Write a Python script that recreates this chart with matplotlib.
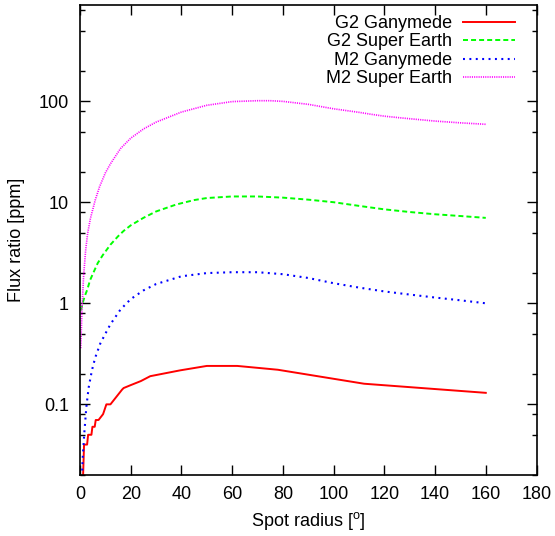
import matplotlib
matplotlib.use("Agg")
import matplotlib.pyplot as plt
from matplotlib.ticker import LogLocator, FixedLocator, FuncFormatter, NullFormatter

plt.rcParams['font.family'] = ['Liberation Sans', 'DejaVu Sans']
plt.rcParams['mathtext.fontset'] = 'custom'
plt.rcParams['mathtext.rm'] = 'Liberation Sans'
plt.rcParams['lines.scale_dashes'] = False

# ---- data ----
g2_gan_x = [0.2, 1.6, 2.8, 3.2, 4.5, 4.9, 5.8, 6.2, 7.3, 9.1, 10.4, 12.0, 16.6, 17.2, 20, 24, 27.7, 39.5, 50, 62, 78, 112, 160]
g2_gan_y = [0.003, 0.04, 0.04, 0.05, 0.05, 0.06, 0.06, 0.07, 0.07, 0.08, 0.10, 0.10, 0.14, 0.145, 0.155, 0.17, 0.19, 0.217, 0.24, 0.24, 0.22, 0.16, 0.13]

g2_se_x = [0.4, 1.0, 2.0, 2.8, 4.0, 5.4, 7, 9, 12, 15, 17.2, 20, 25, 30, 38, 45, 50, 60, 70, 80, 90, 100, 110, 120, 130, 140, 150, 160]
g2_se_y = [0.85, 1.0, 1.2, 1.35, 1.7, 2.04, 2.5, 3.0, 3.8, 4.6, 5.2, 5.9, 7.0, 8.1, 9.5, 10.5, 11.0, 11.4, 11.4, 11.1, 10.6, 10.0, 9.2, 8.5, 8.0, 7.6, 7.3, 7.0]

m2_gan_x = [0.3, 1.0, 1.7, 2.5, 3.4, 4.7, 6, 8, 10, 12, 16, 20, 25, 30, 40, 50, 60, 70, 80, 90, 100, 110, 120, 130, 140, 150, 160]
m2_gan_y = [0.008, 0.028, 0.052, 0.094, 0.146, 0.217, 0.29, 0.40, 0.50, 0.62, 0.87, 1.1, 1.34, 1.55, 1.85, 1.99, 2.03, 2.03, 1.94, 1.78, 1.58, 1.43, 1.31, 1.22, 1.14, 1.07, 1.0]

m2_se_x = [0.3, 0.8, 1.4, 2.2, 3, 4.1, 6, 7.7, 10, 12, 16, 20, 25, 30, 40, 50, 60, 70, 75, 80, 90, 100, 110, 115, 120, 126, 130, 140, 150, 160]
m2_se_y = [0.36, 0.9, 1.82, 3.3, 4.9, 6.9, 10.5, 14.2, 19.5, 24, 34, 43, 53, 62, 78, 91, 99, 101, 101, 99.5, 93, 84, 77.5, 74, 71, 68.5, 67, 63.5, 61, 59]

labels = ["G2 Ganymede", "G2 Super Earth", "M2 Ganymede", "M2 Super Earth"]
x_ticks = [0, 20, 40, 60, 80, 100, 120, 140, 160, 180]
y_ticks = [0.1, 1, 10, 100]
y_tick_labels = ["0.1", "1", "10", "100"]

FS = 13

fig = plt.figure(figsize=(5.55, 5.36), dpi=100)
ax = fig.add_axes([80/555, 1-475/536, 456.5/555, 470.3/536])

ax.plot(g2_gan_x, g2_gan_y, color='#ff0000', lw=1.4, label=labels[0])
ax.plot(g2_se_x, g2_se_y, color='#00ff00', lw=1.4, linestyle=(0, (3.6, 2.2)), label=labels[1])
ax.plot(m2_gan_x, m2_gan_y, color='#0000ff', lw=1.5, linestyle=(0, (1.4, 3.2)), label=labels[2])
ax.plot(m2_se_x, m2_se_y, color='#ff00ff', lw=1.2, linestyle=(0, (0.8, 0.8)), label=labels[3])

ax.set_yscale('log')
ax.set_xlim(0, 180)
ax.set_ylim(0.02, 900)
ax.xaxis.set_major_locator(FixedLocator(x_ticks))
ax.yaxis.set_major_locator(FixedLocator(y_ticks))
ax.yaxis.set_major_formatter(FuncFormatter(lambda v, p: y_tick_labels[y_ticks.index(v)] if v in y_ticks else ""))
ax.yaxis.set_minor_locator(LogLocator(base=10, subs=[2, 5, 8], numticks=20))
ax.yaxis.set_minor_formatter(NullFormatter())

ax.tick_params(which='both', direction='in', top=True, right=True, labelsize=FS, width=1)
ax.tick_params(which='major', length=7, pad=8)
ax.tick_params(which='minor', length=3.5)
for s in ax.spines.values():
    s.set_linewidth(1.2)

ax.set_xlabel("Spot radius [$^{\\mathrm{o}}$]", fontsize=FS, labelpad=5)
ax.set_ylabel("Flux ratio [ppm]", fontsize=FS, labelpad=10)

leg = ax.legend(loc='upper right', bbox_to_anchor=(0.953, 0.978), frameon=False,
                markerfirst=False, fontsize=FS, handlelength=2.9, handletextpad=0.6,
                labelspacing=0.08, borderaxespad=0, borderpad=0)
for t in leg.get_texts():
    t.set_ha('right')

fig.savefig("out.png", dpi=100)
